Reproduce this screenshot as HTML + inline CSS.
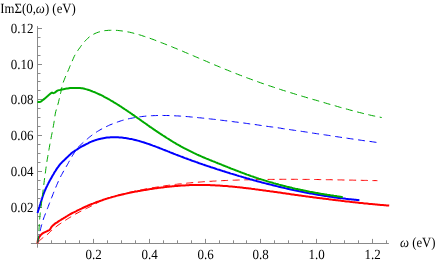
<!DOCTYPE html>
<html><head><meta charset="utf-8"><style>
html,body{margin:0;padding:0;background:#fff;}
svg{display:block}
text{font-family:"Liberation Serif",serif;font-size:13px;fill:#000;text-rendering:geometricPrecision}
</style></head><body>
<svg width="436" height="262" viewBox="0 0 436 262">
<rect width="436" height="262" fill="#fff"/>
<path d="M30.9,243.5 H388.9 M37.5,26.1 V247.7" stroke="#8a8a8a" stroke-width="1" fill="none"/>
<path d="M51.5,243.5 v-3.2 M65.5,243.5 v-3.2 M79.5,243.5 v-3.2 M93.5,243.5 v-4.6 M107.5,243.5 v-3.2 M121.5,243.5 v-3.2 M135.5,243.5 v-3.2 M149.5,243.5 v-4.6 M163.5,243.5 v-3.2 M177.5,243.5 v-3.2 M191.5,243.5 v-3.2 M205.5,243.5 v-4.6 M219.5,243.5 v-3.2 M233.5,243.5 v-3.2 M246.5,243.5 v-3.2 M260.5,243.5 v-4.6 M274.5,243.5 v-3.2 M288.5,243.5 v-3.2 M302.5,243.5 v-3.2 M316.5,243.5 v-4.6 M330.5,243.5 v-3.2 M344.5,243.5 v-3.2 M358.5,243.5 v-3.2 M372.5,243.5 v-4.6 M386.5,243.5 v-3.2 M37.5,234.5 h3.0 M37.5,225.5 h3.0 M37.5,216.5 h3.0 M37.5,207.5 h4.5 M37.5,198.5 h3.0 M37.5,189.5 h3.0 M37.5,180.5 h3.0 M37.5,171.5 h4.5 M37.5,162.5 h3.0 M37.5,153.5 h3.0 M37.5,144.5 h3.0 M37.5,135.5 h4.5 M37.5,126.5 h3.0 M37.5,117.5 h3.0 M37.5,108.5 h3.0 M37.5,99.5 h4.5 M37.5,90.5 h3.0 M37.5,81.5 h3.0 M37.5,73.5 h3.0 M37.5,64.5 h4.5 M37.5,55.5 h3.0 M37.5,46.5 h3.0 M37.5,37.5 h3.0 M37.5,28.5 h4.5" stroke="#8a8a8a" stroke-width="1" fill="none"/>
<path d="M37.4,243.4 L37.6,242.1 L37.8,240.8 L38.2,239.6 L38.6,238.5 L39.1,237.4 L39.8,236.3 L40.5,235.4 L41.4,234.4 L42.3,233.6 L43.4,232.9 L44.5,232.3 L45.6,231.8 L46.7,231.3 L47.8,230.8 L49.0,230.4 L50.0,229.6 L50.6,228.6 L51.2,227.4 L52.0,226.4 L52.8,225.6 L53.8,224.7 L54.7,223.9 L55.7,223.2 L56.8,222.6 L57.8,221.9 L58.8,221.2 L59.9,220.5 L60.9,219.9 L62.0,219.2 L63.0,218.6 L64.1,217.9 L65.1,217.3 L66.2,216.6 L67.2,216.0 L68.3,215.3 L69.4,214.7 L70.4,214.1 L71.5,213.5 L72.6,212.9 L73.7,212.4 L74.9,211.8 L76.0,211.3 L77.1,210.7 L78.2,210.2 L79.3,209.7 L80.4,209.1 L81.5,208.6 L82.7,208.0 L83.8,207.5 L84.9,207.0 L86.0,206.5 L87.2,206.0 L88.3,205.5 L89.4,205.0 L90.6,204.5 L91.7,204.0 L92.9,203.6 L94.0,203.1 L95.2,202.7 L96.3,202.2 L97.5,201.8 L98.7,201.4 L99.8,201.0 L101.0,200.6 L102.2,200.2 L103.3,199.8 L104.5,199.4 L105.7,199.0 L106.9,198.6 L108.1,198.3 L109.3,197.9 L110.4,197.6 L111.6,197.2 L112.8,196.9 L114.0,196.6 L115.2,196.3 L116.4,195.9 L117.6,195.6 L118.8,195.3 L120.0,195.0 L121.2,194.7 L122.4,194.4 L123.6,194.2 L124.8,193.9 L126.0,193.6 L127.3,193.3 L128.5,193.1 L129.7,192.8 L130.9,192.6 L132.1,192.3 L133.3,192.1 L134.5,191.8 L135.7,191.6 L137.0,191.4 L138.2,191.1 L139.4,190.9 L140.6,190.7 L141.8,190.5 L143.1,190.3 L144.3,190.1 L145.5,189.9 L146.7,189.7 L147.9,189.5 L149.2,189.3 L150.4,189.1 L151.6,188.9 L152.8,188.7 L154.1,188.5 L155.3,188.3 L156.5,188.2 L157.7,188.0 L159.0,187.8 L160.2,187.7 L161.4,187.5 L162.7,187.4 L163.9,187.2 L165.1,187.1 L166.3,186.9 L167.6,186.8 L168.8,186.7 L170.0,186.5 L171.3,186.4 L172.5,186.3 L173.7,186.2 L175.0,186.1 L176.2,186.0 L177.4,185.9 L178.7,185.8 L179.9,185.7 L181.1,185.6 L182.4,185.5 L183.6,185.4 L184.9,185.4 L186.1,185.3 L187.3,185.3 L188.6,185.2 L189.8,185.1 L191.0,185.1 L192.3,185.1 L193.5,185.0 L194.8,185.0 L196.0,185.0 L197.2,185.0 L198.5,185.0 L199.7,185.0 L200.9,185.0 L202.2,185.0 L203.4,185.0 L204.7,185.0 L205.9,185.0 L207.1,185.0 L208.4,185.1 L209.6,185.1 L210.8,185.2 L212.1,185.2 L213.3,185.3 L214.6,185.3 L215.8,185.4 L217.0,185.5 L218.3,185.5 L219.5,185.6 L220.7,185.7 L222.0,185.8 L223.2,185.9 L224.4,185.9 L225.7,186.0 L226.9,186.1 L228.2,186.2 L229.4,186.4 L230.6,186.5 L231.9,186.6 L233.1,186.7 L234.3,186.8 L235.5,186.9 L236.8,187.1 L238.0,187.2 L239.2,187.3 L240.5,187.5 L241.7,187.6 L242.9,187.7 L244.2,187.9 L245.4,188.0 L246.6,188.2 L247.9,188.3 L249.1,188.5 L250.3,188.6 L251.5,188.8 L252.8,188.9 L254.0,189.1 L255.2,189.3 L256.5,189.4 L257.7,189.6 L258.9,189.7 L260.1,189.9 L261.4,190.1 L262.6,190.2 L263.8,190.4 L265.0,190.6 L266.3,190.8 L267.5,190.9 L268.7,191.1 L270.0,191.3 L271.2,191.4 L272.4,191.6 L273.6,191.8 L274.9,192.0 L276.1,192.1 L277.3,192.3 L278.5,192.5 L279.8,192.6 L281.0,192.8 L282.2,193.0 L283.4,193.2 L284.7,193.3 L285.9,193.5 L287.1,193.7 L288.3,193.8 L289.6,194.0 L290.8,194.2 L292.0,194.4 L293.3,194.5 L294.5,194.7 L295.7,194.9 L296.9,195.0 L298.2,195.2 L299.4,195.4 L300.6,195.5 L301.8,195.7 L303.1,195.9 L304.3,196.1 L305.5,196.2 L306.7,196.4 L308.0,196.6 L309.2,196.7 L310.4,196.9 L311.7,197.0 L312.9,197.2 L314.1,197.4 L315.3,197.5 L316.6,197.7 L317.8,197.9 L319.0,198.0 L320.3,198.2 L321.5,198.3 L322.7,198.5 L323.9,198.7 L325.2,198.8 L326.4,199.0 L327.6,199.1 L328.9,199.3 L330.1,199.4 L331.3,199.6 L332.5,199.7 L333.8,199.9 L335.0,200.0 L336.2,200.2 L337.5,200.3 L338.7,200.5 L339.9,200.6 L341.1,200.8 L342.4,200.9 L343.6,201.1 L344.8,201.2 L346.1,201.4 L347.3,201.5 L348.5,201.6 L349.8,201.8 L351.0,201.9 L352.2,202.1 L353.4,202.2 L354.7,202.3 L355.9,202.5 L357.1,202.6 L358.4,202.7 L359.6,202.9 L360.8,203.0 L362.1,203.1 L363.3,203.2 L364.5,203.4 L365.8,203.5 L367.0,203.6 L368.2,203.7 L369.5,203.9 L370.7,204.0 L371.9,204.1 L373.2,204.2 L374.4,204.3 L375.6,204.4 L376.9,204.5 L378.1,204.7 L379.3,204.8 L380.6,204.9 L381.8,205.0 L383.0,205.1 L384.3,205.2 L385.5,205.3 L386.7,205.4 L388.0,205.5 L389.2,205.6" fill="none" stroke="#ff0000" stroke-width="2"/>
<path d="M37.5,243.4 L38.1,242.4 L38.8,241.4 L39.6,240.5 L40.5,239.7 L41.4,239.0 L42.3,238.2 L43.3,237.5 L44.3,236.8 L45.2,236.1 L46.2,235.4 L47.1,234.7 L48.0,233.9 L48.9,233.1 L49.7,232.3 L50.6,231.4 L51.5,230.6 L52.3,229.8 L53.2,229.0 L54.1,228.3 L55.1,227.5 L56.0,226.8 L56.9,226.1 L57.9,225.3 L58.9,224.6 L59.8,224.0 L60.8,223.3 L61.8,222.6 L62.8,221.9 L63.8,221.3 L64.8,220.6 L65.8,220.0 L66.8,219.4 L67.8,218.7 L68.8,218.1 L69.8,217.5 L70.8,216.9 L71.8,216.2 L72.9,215.6 L73.9,215.0 L74.9,214.4 L75.9,213.8 L77.0,213.3 L78.0,212.7 L79.1,212.1 L80.1,211.6 L81.2,211.1 L82.3,210.5 L83.3,210.0 L84.4,209.5 L85.5,209.0 L86.5,208.5 L87.6,207.9 L88.7,207.4 L89.7,206.9 L90.8,206.3 L91.8,205.8 L92.9,205.2 L93.9,204.6 L95.0,204.1 L96.0,203.5 L97.1,202.9 L98.1,202.4 L99.2,201.8 L100.2,201.3 L101.3,200.7 L102.4,200.2 L103.4,199.7 L104.5,199.3 L105.6,198.8 L106.8,198.4 L107.9,198.1 L109.1,197.8 L110.2,197.5 L111.4,197.1 L112.5,196.8 L113.6,196.5 L114.8,196.2 L115.9,195.9 L117.1,195.5 L118.2,195.2 L119.4,194.9 L120.5,194.6 L121.7,194.3 L122.8,194.0 L124.0,193.7 L125.1,193.5 L126.3,193.2 L127.4,192.9 L128.6,192.6 L129.8,192.3 L130.9,192.1 L132.1,191.8 L133.2,191.6 L134.4,191.3 L135.6,191.0 L136.7,190.8 L137.9,190.5 L139.1,190.3 L140.2,190.1 L141.4,189.8 L142.6,189.6 L143.7,189.4 L144.9,189.1 L146.1,188.9 L147.2,188.7 L148.4,188.5 L149.6,188.3 L150.7,188.1 L151.9,187.9 L153.1,187.7 L154.3,187.5 L155.4,187.3 L156.6,187.1 L157.8,186.9 L158.9,186.7 L160.1,186.5 L161.3,186.3 L162.5,186.2 L163.6,186.0 L164.8,185.8 L166.0,185.7 L167.2,185.5 L168.4,185.3 L169.5,185.2 L170.7,185.0 L171.9,184.9 L173.1,184.7 L174.3,184.6 L175.4,184.4 L176.6,184.3 L177.8,184.1 L179.0,184.0 L180.2,183.9 L181.3,183.8 L182.5,183.6 L183.7,183.5 L184.9,183.4 L186.1,183.3 L187.3,183.1 L188.4,183.0 L189.6,182.9 L190.8,182.8 L192.0,182.7 L193.2,182.6 L194.4,182.5 L195.5,182.4 L196.7,182.3 L197.9,182.2 L199.1,182.1 L200.3,182.0 L201.5,181.9 L202.7,181.8 L203.8,181.7 L205.0,181.7 L206.2,181.6 L207.4,181.5 L208.6,181.4 L209.8,181.3 L211.0,181.3 L212.2,181.2 L213.3,181.1 L214.5,181.1 L215.7,181.0 L216.9,180.9 L218.1,180.9 L219.3,180.8 L220.5,180.7 L221.7,180.7 L222.8,180.6 L224.0,180.6 L225.2,180.5 L226.4,180.5 L227.6,180.4 L228.8,180.4 L230.0,180.3 L231.2,180.3 L232.3,180.2 L233.5,180.2 L234.7,180.2 L235.9,180.1 L237.1,180.1 L238.3,180.0 L239.5,180.0 L240.7,180.0 L241.9,179.9 L243.0,179.9 L244.2,179.9 L245.4,179.8 L246.6,179.8 L247.8,179.8 L249.0,179.7 L250.2,179.7 L251.4,179.7 L252.6,179.7 L253.7,179.6 L254.9,179.6 L256.1,179.6 L257.3,179.6 L258.5,179.5 L259.7,179.5 L260.9,179.5 L262.1,179.5 L263.3,179.5 L264.4,179.5 L265.6,179.4 L266.8,179.4 L268.0,179.4 L269.2,179.4 L270.4,179.4 L271.6,179.4 L272.8,179.4 L274.0,179.4 L275.1,179.4 L276.3,179.4 L277.5,179.3 L278.7,179.3 L279.9,179.3 L281.1,179.3 L282.3,179.3 L283.5,179.3 L284.7,179.3 L285.8,179.3 L287.0,179.3 L288.2,179.3 L289.4,179.3 L290.6,179.3 L291.8,179.3 L293.0,179.3 L294.2,179.3 L295.4,179.3 L296.5,179.3 L297.7,179.4 L298.9,179.4 L300.1,179.4 L301.3,179.4 L302.5,179.4 L303.7,179.4 L304.9,179.4 L306.1,179.4 L307.3,179.4 L308.4,179.4 L309.6,179.4 L310.8,179.5 L312.0,179.5 L313.2,179.5 L314.4,179.5 L315.6,179.5 L316.8,179.5 L318.0,179.5 L319.1,179.6 L320.3,179.6 L321.5,179.6 L322.7,179.6 L323.9,179.6 L325.1,179.6 L326.3,179.7 L327.5,179.7 L328.7,179.7 L329.8,179.7 L331.0,179.7 L332.2,179.8 L333.4,179.8 L334.6,179.8 L335.8,179.8 L337.0,179.8 L338.2,179.9 L339.4,179.9 L340.5,179.9 L341.7,179.9 L342.9,180.0 L344.1,180.0 L345.3,180.0 L346.5,180.0 L347.7,180.0 L348.9,180.1 L350.1,180.1 L351.2,180.1 L352.4,180.1 L353.6,180.2 L354.8,180.2 L356.0,180.2 L357.2,180.2 L358.4,180.3 L359.6,180.3 L360.8,180.3 L361.9,180.3 L363.1,180.4 L364.3,180.4 L365.5,180.4 L366.7,180.4 L367.9,180.5 L369.1,180.5 L370.3,180.5 L371.5,180.5 L372.6,180.6 L373.8,180.6 L375.0,180.6 L376.2,180.6 L377.4,180.7" fill="none" stroke="#ff0000" stroke-width="1.0" stroke-dasharray="7 4.65" stroke-dashoffset="-1.3"/>
<path d="M37.5,213.0 L37.9,211.8 L38.2,210.6 L38.6,209.5 L39.0,208.3 L39.4,207.1 L39.7,205.9 L40.1,204.7 L40.5,203.5 L40.8,202.4 L41.2,201.2 L41.6,200.0 L42.0,198.8 L42.3,197.6 L42.7,196.5 L43.1,195.3 L43.5,194.1 L44.0,193.0 L44.4,191.8 L44.9,190.7 L45.4,189.5 L45.9,188.4 L46.4,187.3 L47.0,186.1 L47.5,185.0 L48.1,183.9 L48.6,182.8 L49.2,181.7 L49.8,180.6 L50.4,179.6 L51.0,178.5 L51.6,177.4 L52.2,176.3 L52.8,175.2 L53.5,174.2 L54.1,173.1 L54.7,172.0 L55.4,171.0 L56.1,169.9 L56.7,168.9 L57.4,167.9 L58.2,166.9 L58.9,165.9 L59.6,164.9 L60.4,163.9 L61.3,163.0 L62.1,162.1 L63.0,161.2 L63.9,160.4 L64.8,159.5 L65.7,158.7 L66.6,157.8 L67.5,157.0 L68.4,156.1 L69.3,155.2 L70.2,154.4 L71.1,153.5 L72.0,152.7 L73.0,152.0 L74.1,151.3 L75.1,150.6 L76.1,150.0 L77.2,149.3 L78.2,148.6 L79.3,148.0 L80.3,147.3 L81.4,146.7 L82.5,146.1 L83.6,145.5 L84.7,145.0 L85.8,144.4 L86.9,143.8 L88.0,143.3 L89.1,142.7 L90.2,142.2 L91.4,141.7 L92.5,141.2 L93.7,140.8 L94.8,140.4 L96.0,140.0 L97.2,139.6 L98.4,139.3 L99.6,139.0 L100.8,138.7 L102.0,138.4 L103.2,138.2 L104.5,138.0 L105.7,137.8 L106.9,137.6 L108.1,137.5 L109.4,137.4 L110.6,137.3 L111.9,137.2 L113.1,137.2 L114.3,137.2 L115.6,137.2 L116.8,137.2 L118.1,137.3 L119.3,137.4 L120.5,137.5 L121.8,137.6 L123.0,137.7 L124.2,137.9 L125.5,138.0 L126.7,138.2 L127.9,138.4 L129.1,138.7 L130.3,138.9 L131.5,139.1 L132.8,139.4 L134.0,139.7 L135.2,140.0 L136.4,140.3 L137.6,140.6 L138.8,140.9 L140.0,141.3 L141.1,141.6 L142.3,142.0 L143.5,142.3 L144.7,142.7 L145.9,143.1 L147.0,143.5 L148.2,143.9 L149.4,144.3 L150.6,144.7 L151.7,145.1 L152.9,145.6 L154.1,146.0 L155.2,146.4 L156.4,146.9 L157.5,147.3 L158.7,147.7 L159.8,148.2 L161.0,148.6 L162.2,149.1 L163.3,149.6 L164.5,150.0 L165.6,150.5 L166.8,150.9 L167.9,151.4 L169.1,151.8 L170.2,152.3 L171.4,152.8 L172.5,153.2 L173.7,153.7 L174.8,154.1 L176.0,154.6 L177.1,155.0 L178.3,155.5 L179.4,155.9 L180.6,156.4 L181.8,156.8 L182.9,157.2 L184.1,157.7 L185.2,158.1 L186.4,158.5 L187.6,159.0 L188.7,159.4 L189.9,159.8 L191.1,160.3 L192.2,160.7 L193.4,161.1 L194.6,161.5 L195.7,161.9 L196.9,162.3 L198.1,162.8 L199.2,163.2 L200.4,163.6 L201.6,164.0 L202.7,164.4 L203.9,164.8 L205.1,165.2 L206.3,165.6 L207.4,166.0 L208.6,166.4 L209.8,166.8 L211.0,167.2 L212.1,167.5 L213.3,167.9 L214.5,168.3 L215.7,168.7 L216.8,169.1 L218.0,169.5 L219.2,169.8 L220.4,170.2 L221.6,170.6 L222.7,171.0 L223.9,171.3 L225.1,171.7 L226.3,172.1 L227.5,172.5 L228.7,172.8 L229.8,173.2 L231.0,173.6 L232.2,173.9 L233.4,174.3 L234.6,174.6 L235.8,175.0 L237.0,175.4 L238.1,175.7 L239.3,176.1 L240.5,176.4 L241.7,176.8 L242.9,177.1 L244.1,177.5 L245.3,177.8 L246.5,178.2 L247.7,178.5 L248.8,178.8 L250.0,179.2 L251.2,179.5 L252.4,179.8 L253.6,180.2 L254.8,180.5 L256.0,180.8 L257.2,181.2 L258.4,181.5 L259.6,181.8 L260.8,182.1 L262.0,182.5 L263.2,182.8 L264.4,183.1 L265.6,183.4 L266.8,183.7 L268.0,184.0 L269.2,184.3 L270.4,184.6 L271.6,184.9 L272.8,185.2 L274.0,185.5 L275.2,185.8 L276.4,186.1 L277.6,186.4 L278.8,186.7 L280.0,187.0 L281.2,187.3 L282.4,187.6 L283.6,187.8 L284.8,188.1 L286.0,188.4 L287.3,188.7 L288.5,188.9 L289.7,189.2 L290.9,189.5 L292.1,189.7 L293.3,190.0 L294.5,190.3 L295.7,190.5 L296.9,190.8 L298.2,191.0 L299.4,191.3 L300.6,191.5 L301.8,191.8 L303.0,192.0 L304.2,192.2 L305.4,192.5 L306.7,192.7 L307.9,192.9 L309.1,193.2 L310.3,193.4 L311.5,193.6 L312.8,193.8 L314.0,194.1 L315.2,194.3 L316.4,194.5 L317.6,194.7 L318.9,194.9 L320.1,195.1 L321.3,195.3 L322.5,195.5 L323.8,195.7 L325.0,195.9 L326.2,196.1 L327.4,196.3 L328.6,196.5 L329.9,196.7 L331.1,196.8 L332.3,197.0 L333.6,197.2 L334.8,197.4 L336.0,197.5 L337.2,197.7 L338.5,197.9 L339.7,198.0 L340.9,198.2 L342.2,198.3 L343.4,198.5 L344.6,198.6 L345.8,198.8 L347.1,198.9 L348.3,199.1 L349.5,199.2 L350.8,199.3 L352.0,199.5 L353.2,199.6 L354.5,199.7 L355.7,199.8 L356.9,200.0 L358.2,200.1 L359.4,200.2" fill="none" stroke="#0000ff" stroke-width="2"/>
<path d="M37.5,243.4 L37.7,242.0 L38.0,240.7 L38.2,239.3 L38.5,237.9 L38.8,236.6 L39.1,235.2 L39.4,233.9 L39.7,232.5 L40.0,231.2 L40.3,229.9 L40.7,228.5 L41.0,227.2 L41.4,225.8 L41.8,224.5 L42.1,223.2 L42.5,221.9 L43.0,220.5 L43.4,219.2 L43.8,217.9 L44.3,216.6 L44.8,215.3 L45.3,214.0 L45.8,212.7 L46.3,211.4 L46.8,210.1 L47.3,208.8 L47.8,207.6 L48.3,206.3 L48.8,205.0 L49.3,203.7 L49.8,202.4 L50.3,201.1 L50.8,199.8 L51.3,198.5 L51.8,197.2 L52.3,196.0 L52.8,194.7 L53.3,193.4 L53.8,192.1 L54.4,190.8 L54.9,189.5 L55.4,188.3 L55.9,187.0 L56.5,185.7 L57.0,184.4 L57.6,183.2 L58.1,181.9 L58.7,180.6 L59.3,179.4 L59.9,178.1 L60.5,176.9 L61.1,175.7 L61.8,174.4 L62.5,173.2 L63.1,172.0 L63.8,170.8 L64.5,169.6 L65.2,168.4 L65.9,167.2 L66.6,166.0 L67.3,164.8 L68.0,163.6 L68.6,162.4 L69.3,161.2 L70.0,160.0 L70.7,158.8 L71.4,157.6 L72.0,156.4 L72.7,155.2 L73.5,154.0 L74.2,152.8 L74.9,151.7 L75.7,150.5 L76.5,149.4 L77.3,148.3 L78.2,147.2 L79.2,146.2 L80.2,145.2 L81.2,144.3 L82.2,143.4 L83.3,142.4 L84.3,141.5 L85.3,140.6 L86.4,139.7 L87.5,138.8 L88.5,137.9 L89.6,137.0 L90.7,136.2 L91.8,135.3 L92.9,134.5 L94.0,133.7 L95.1,132.9 L96.3,132.2 L97.5,131.4 L98.7,130.7 L99.9,130.0 L101.1,129.3 L102.3,128.7 L103.5,128.0 L104.7,127.4 L106.0,126.8 L107.2,126.2 L108.5,125.6 L109.7,125.0 L111.0,124.5 L112.3,124.0 L113.6,123.4 L114.9,122.9 L116.2,122.5 L117.5,122.0 L118.8,121.6 L120.1,121.1 L121.4,120.7 L122.7,120.3 L124.1,120.0 L125.4,119.6 L126.8,119.3 L128.1,118.9 L129.5,118.6 L130.8,118.3 L132.2,118.1 L133.5,117.8 L134.9,117.6 L136.2,117.3 L137.6,117.1 L139.0,116.9 L140.4,116.7 L141.7,116.6 L143.1,116.4 L144.5,116.3 L145.9,116.1 L147.2,116.0 L148.6,115.9 L150.0,115.8 L151.4,115.7 L152.8,115.7 L154.1,115.6 L155.5,115.6 L156.9,115.5 L158.3,115.5 L159.7,115.5 L161.1,115.5 L162.4,115.4 L163.8,115.5 L165.2,115.5 L166.6,115.5 L168.0,115.5 L169.4,115.6 L170.7,115.6 L172.1,115.7 L173.5,115.7 L174.9,115.8 L176.3,115.9 L177.7,115.9 L179.0,116.0 L180.4,116.1 L181.8,116.2 L183.2,116.3 L184.6,116.4 L185.9,116.5 L187.3,116.6 L188.7,116.7 L190.1,116.9 L191.5,117.0 L192.8,117.1 L194.2,117.3 L195.6,117.4 L197.0,117.5 L198.3,117.7 L199.7,117.8 L201.1,117.9 L202.5,118.1 L203.8,118.2 L205.2,118.4 L206.6,118.5 L208.0,118.7 L209.3,118.8 L210.7,119.0 L212.1,119.1 L213.5,119.3 L214.8,119.4 L216.2,119.6 L217.6,119.8 L219.0,119.9 L220.3,120.1 L221.7,120.3 L223.1,120.4 L224.5,120.6 L225.8,120.8 L227.2,120.9 L228.6,121.1 L230.0,121.3 L231.3,121.4 L232.7,121.6 L234.1,121.8 L235.4,122.0 L236.8,122.1 L238.2,122.3 L239.6,122.5 L240.9,122.7 L242.3,122.9 L243.7,123.0 L245.1,123.2 L246.4,123.4 L247.8,123.6 L249.2,123.8 L250.5,124.0 L251.9,124.1 L253.3,124.3 L254.7,124.5 L256.0,124.7 L257.4,124.9 L258.8,125.1 L260.1,125.3 L261.5,125.5 L262.9,125.7 L264.2,125.9 L265.6,126.1 L267.0,126.3 L268.4,126.5 L269.7,126.7 L271.1,126.9 L272.5,127.0 L273.8,127.2 L275.2,127.4 L276.6,127.6 L277.9,127.8 L279.3,128.0 L280.7,128.2 L282.0,128.5 L283.4,128.7 L284.8,128.9 L286.2,129.1 L287.5,129.3 L288.9,129.5 L290.3,129.7 L291.6,129.9 L293.0,130.1 L294.4,130.3 L295.7,130.5 L297.1,130.7 L298.5,130.9 L299.8,131.1 L301.2,131.3 L302.6,131.5 L303.9,131.7 L305.3,131.9 L306.7,132.1 L308.0,132.3 L309.4,132.6 L310.8,132.8 L312.1,133.0 L313.5,133.2 L314.9,133.4 L316.3,133.6 L317.6,133.8 L319.0,134.0 L320.4,134.2 L321.7,134.4 L323.1,134.6 L324.5,134.8 L325.8,135.0 L327.2,135.2 L328.6,135.4 L329.9,135.6 L331.3,135.9 L332.7,136.1 L334.0,136.3 L335.4,136.5 L336.8,136.7 L338.1,136.9 L339.5,137.1 L340.9,137.3 L342.3,137.5 L343.6,137.7 L345.0,137.9 L346.4,138.1 L347.7,138.3 L349.1,138.5 L350.5,138.7 L351.8,138.9 L353.2,139.1 L354.6,139.3 L355.9,139.5 L357.3,139.7 L358.7,139.9 L360.1,140.1 L361.4,140.3 L362.8,140.5 L364.2,140.7 L365.5,140.9 L366.9,141.0 L368.3,141.2 L369.6,141.4 L371.0,141.6 L372.4,141.8 L373.8,142.0 L375.1,142.2 L376.5,142.4" fill="none" stroke="#0000ff" stroke-width="1.0" stroke-dasharray="7 4.6" stroke-dashoffset="-0.9"/>
<path d="M37.4,101.7 L38.6,102.0 L39.8,102.1 L40.8,101.7 L41.7,101.0 L42.5,100.3 L43.4,99.6 L44.3,98.9 L45.1,98.2 L46.0,97.5 L46.8,96.7 L47.7,96.0 L48.5,95.3 L49.4,94.6 L50.2,93.8 L51.1,93.1 L52.0,92.7 L53.2,93.2 L54.2,92.9 L55.2,92.4 L56.1,91.6 L57.0,90.9 L58.0,90.4 L59.0,90.1 L60.1,89.9 L61.2,89.6 L62.3,89.4 L63.4,89.2 L64.5,89.0 L65.6,88.8 L66.7,88.6 L67.8,88.5 L68.9,88.3 L70.0,88.1 L71.2,88.0 L72.3,87.9 L73.4,87.9 L74.5,87.9 L75.6,87.9 L76.8,87.9 L77.9,87.9 L79.0,88.0 L80.1,88.1 L81.2,88.2 L82.3,88.3 L83.4,88.5 L84.5,88.8 L85.6,89.1 L86.7,89.4 L87.8,89.7 L88.8,90.0 L89.9,90.4 L90.9,90.8 L92.0,91.2 L93.0,91.6 L94.1,92.0 L95.1,92.4 L96.1,92.9 L97.2,93.3 L98.2,93.8 L99.2,94.3 L100.2,94.7 L101.2,95.2 L102.2,95.7 L103.2,96.2 L104.2,96.8 L105.2,97.3 L106.2,97.8 L107.2,98.3 L108.1,98.9 L109.1,99.4 L110.1,100.0 L111.0,100.6 L112.0,101.1 L113.0,101.7 L113.9,102.3 L114.9,102.8 L115.8,103.4 L116.8,104.0 L117.7,104.6 L118.7,105.2 L119.6,105.8 L120.6,106.4 L121.5,107.0 L122.4,107.7 L123.4,108.3 L124.3,108.9 L125.2,109.5 L126.2,110.1 L127.1,110.8 L128.0,111.4 L128.9,112.0 L129.9,112.6 L130.8,113.3 L131.7,113.9 L132.6,114.6 L133.6,115.2 L134.5,115.8 L135.4,116.5 L136.3,117.1 L137.2,117.8 L138.1,118.4 L139.1,119.0 L140.0,119.7 L140.9,120.3 L141.8,121.0 L142.7,121.6 L143.6,122.3 L144.5,122.9 L145.5,123.5 L146.4,124.2 L147.3,124.8 L148.2,125.5 L149.1,126.1 L150.0,126.8 L151.0,127.4 L151.9,128.0 L152.8,128.7 L153.7,129.3 L154.6,129.9 L155.6,130.6 L156.5,131.2 L157.4,131.8 L158.4,132.4 L159.3,133.1 L160.2,133.7 L161.2,134.3 L162.1,134.9 L163.0,135.5 L164.0,136.1 L164.9,136.7 L165.8,137.3 L166.8,138.0 L167.7,138.5 L168.7,139.1 L169.6,139.7 L170.6,140.3 L171.5,140.9 L172.5,141.5 L173.4,142.1 L174.4,142.7 L175.4,143.2 L176.3,143.8 L177.3,144.4 L178.3,144.9 L179.2,145.5 L180.2,146.0 L181.2,146.6 L182.2,147.1 L183.1,147.6 L184.1,148.2 L185.1,148.7 L186.1,149.2 L187.1,149.7 L188.1,150.2 L189.1,150.7 L190.1,151.2 L191.1,151.7 L192.1,152.2 L193.1,152.7 L194.1,153.2 L195.2,153.6 L196.2,154.1 L197.2,154.6 L198.2,155.0 L199.2,155.5 L200.3,155.9 L201.3,156.4 L202.3,156.8 L203.3,157.3 L204.4,157.7 L205.4,158.1 L206.4,158.6 L207.5,159.0 L208.5,159.4 L209.5,159.9 L210.6,160.3 L211.6,160.7 L212.6,161.1 L213.7,161.5 L214.7,161.9 L215.8,162.4 L216.8,162.8 L217.8,163.2 L218.9,163.6 L219.9,164.0 L221.0,164.4 L222.0,164.9 L223.0,165.3 L224.1,165.7 L225.1,166.1 L226.1,166.5 L227.2,166.9 L228.2,167.4 L229.3,167.8 L230.3,168.2 L231.3,168.6 L232.4,169.0 L233.4,169.4 L234.5,169.8 L235.5,170.2 L236.6,170.6 L237.6,171.0 L238.6,171.4 L239.7,171.8 L240.7,172.2 L241.8,172.6 L242.8,173.0 L243.9,173.4 L244.9,173.8 L246.0,174.2 L247.0,174.6 L248.1,174.9 L249.1,175.3 L250.2,175.7 L251.2,176.1 L252.3,176.4 L253.4,176.8 L254.4,177.2 L255.5,177.5 L256.5,177.9 L257.6,178.2 L258.7,178.6 L259.7,178.9 L260.8,179.3 L261.9,179.6 L262.9,179.9 L264.0,180.3 L265.1,180.6 L266.1,180.9 L267.2,181.3 L268.3,181.6 L269.3,181.9 L270.4,182.2 L271.5,182.5 L272.6,182.8 L273.6,183.1 L274.7,183.4 L275.8,183.8 L276.9,184.0 L278.0,184.3 L279.0,184.6 L280.1,184.9 L281.2,185.2 L282.3,185.5 L283.4,185.8 L284.5,186.0 L285.5,186.3 L286.6,186.6 L287.7,186.9 L288.8,187.1 L289.9,187.4 L291.0,187.6 L292.1,187.9 L293.2,188.2 L294.2,188.4 L295.3,188.7 L296.4,188.9 L297.5,189.1 L298.6,189.4 L299.7,189.6 L300.8,189.9 L301.9,190.1 L303.0,190.3 L304.1,190.6 L305.2,190.8 L306.3,191.0 L307.4,191.2 L308.5,191.4 L309.6,191.7 L310.7,191.9 L311.8,192.1 L312.9,192.3 L314.0,192.5 L315.1,192.7 L316.2,192.9 L317.3,193.1 L318.4,193.3 L319.5,193.5 L320.6,193.7 L321.7,193.9 L322.8,194.0 L323.9,194.2 L325.0,194.4 L326.1,194.6 L327.2,194.8 L328.3,194.9 L329.4,195.1 L330.5,195.3 L331.6,195.4 L332.7,195.6 L333.8,195.8 L334.9,195.9 L336.0,196.1 L337.2,196.3 L338.3,196.4 L339.4,196.6 L340.5,196.7 L341.6,196.9 L342.7,197.0" fill="none" stroke="#00aa00" stroke-width="2"/>
<path d="M37.5,243.4 L37.8,241.7 L38.1,239.9 L38.3,238.2 L38.5,236.5 L38.7,234.7 L38.8,233.0 L38.9,231.2 L39.0,229.5 L39.1,227.7 L39.2,226.0 L39.3,224.2 L39.4,222.4 L39.5,220.7 L39.7,218.9 L39.8,217.2 L40.0,215.5 L40.2,213.7 L40.4,212.0 L40.6,210.2 L40.8,208.5 L41.0,206.7 L41.3,205.0 L41.5,203.3 L41.7,201.5 L41.9,199.8 L42.1,198.0 L42.3,196.3 L42.5,194.6 L42.8,192.8 L43.0,191.1 L43.2,189.3 L43.4,187.6 L43.6,185.9 L43.9,184.1 L44.1,182.4 L44.3,180.6 L44.5,178.9 L44.8,177.2 L45.0,175.4 L45.2,173.7 L45.5,171.9 L45.7,170.2 L45.9,168.5 L46.2,166.7 L46.4,165.0 L46.7,163.3 L46.9,161.5 L47.2,159.8 L47.5,158.1 L47.8,156.3 L48.1,154.6 L48.4,152.9 L48.7,151.1 L49.0,149.4 L49.3,147.7 L49.6,146.0 L49.9,144.2 L50.3,142.5 L50.6,140.8 L50.9,139.1 L51.2,137.3 L51.5,135.6 L51.9,133.9 L52.2,132.2 L52.5,130.4 L52.8,128.7 L53.2,127.0 L53.5,125.3 L53.8,123.5 L54.1,121.8 L54.3,120.1 L54.6,118.3 L54.8,116.6 L55.1,114.9 L55.4,113.1 L55.8,111.4 L56.3,109.7 L56.7,108.0 L57.3,106.4 L57.8,104.7 L58.3,103.0 L58.7,101.3 L59.1,99.6 L59.5,97.9 L59.9,96.2 L60.3,94.5 L60.7,92.8 L61.1,91.0 L61.5,89.3 L61.8,87.6 L62.2,85.9 L62.7,84.2 L63.2,82.5 L63.8,80.9 L64.5,79.2 L65.1,77.6 L65.8,76.0 L66.5,74.4 L67.2,72.8 L67.9,71.2 L68.6,69.6 L69.3,67.9 L69.9,66.3 L70.6,64.7 L71.3,63.1 L72.0,61.5 L72.7,59.9 L73.4,58.3 L74.1,56.7 L74.9,55.1 L75.8,53.6 L76.8,52.1 L77.7,50.7 L78.7,49.2 L79.8,47.8 L80.8,46.3 L81.8,44.9 L82.9,43.6 L84.0,42.2 L85.2,40.9 L86.4,39.7 L87.7,38.4 L89.0,37.2 L90.4,36.1 L91.9,35.2 L93.4,34.3 L95.0,33.5 L96.6,32.8 L98.3,32.2 L100.0,31.7 L101.7,31.2 L103.4,30.9 L105.1,30.6 L106.9,30.5 L108.6,30.3 L110.4,30.3 L112.1,30.2 L113.9,30.3 L115.6,30.3 L117.4,30.4 L119.1,30.6 L120.9,30.8 L122.6,31.0 L124.3,31.2 L126.1,31.5 L127.8,31.9 L129.5,32.2 L131.2,32.6 L132.9,33.0 L134.6,33.5 L136.3,33.9 L138.0,34.4 L139.7,34.9 L141.4,35.4 L143.0,36.0 L144.7,36.5 L146.4,37.1 L148.0,37.6 L149.7,38.2 L151.3,38.8 L153.0,39.4 L154.6,40.0 L156.3,40.7 L157.9,41.3 L159.5,41.9 L161.2,42.6 L162.8,43.2 L164.4,43.8 L166.1,44.5 L167.7,45.1 L169.3,45.8 L171.0,46.4 L172.6,47.1 L174.2,47.8 L175.8,48.4 L177.4,49.1 L179.1,49.8 L180.7,50.5 L182.3,51.1 L183.9,51.8 L185.5,52.5 L187.2,53.2 L188.8,53.9 L190.4,54.6 L192.0,55.2 L193.6,55.9 L195.2,56.6 L196.8,57.3 L198.5,58.0 L200.1,58.7 L201.7,59.4 L203.3,60.1 L204.9,60.7 L206.5,61.4 L208.1,62.1 L209.7,62.8 L211.4,63.5 L213.0,64.2 L214.6,64.9 L216.2,65.5 L217.8,66.2 L219.5,66.9 L221.1,67.6 L222.7,68.2 L224.3,68.9 L225.9,69.6 L227.6,70.2 L229.2,70.9 L230.8,71.5 L232.4,72.2 L234.1,72.8 L235.7,73.5 L237.3,74.1 L239.0,74.8 L240.6,75.4 L242.3,76.0 L243.9,76.6 L245.5,77.3 L247.2,77.9 L248.8,78.5 L250.5,79.1 L252.1,79.7 L253.8,80.3 L255.4,80.9 L257.1,81.5 L258.7,82.1 L260.4,82.7 L262.0,83.3 L263.7,83.8 L265.3,84.4 L267.0,85.0 L268.6,85.6 L270.3,86.1 L272.0,86.7 L273.6,87.2 L275.3,87.8 L277.0,88.3 L278.6,88.9 L280.3,89.4 L282.0,90.0 L283.6,90.5 L285.3,91.0 L287.0,91.6 L288.7,92.1 L290.3,92.6 L292.0,93.1 L293.7,93.6 L295.4,94.2 L297.0,94.7 L298.7,95.2 L300.4,95.7 L302.1,96.2 L303.8,96.7 L305.5,97.2 L307.1,97.7 L308.8,98.2 L310.5,98.7 L312.2,99.2 L313.9,99.7 L315.6,100.1 L317.2,100.6 L318.9,101.1 L320.6,101.6 L322.3,102.1 L324.0,102.6 L325.7,103.1 L327.3,103.6 L329.0,104.1 L330.7,104.5 L332.4,105.0 L334.1,105.5 L335.8,106.0 L337.5,106.5 L339.1,107.0 L340.8,107.5 L342.5,107.9 L344.2,108.4 L345.9,108.9 L347.6,109.3 L349.3,109.8 L351.0,110.3 L352.7,110.7 L354.4,111.2 L356.1,111.6 L357.8,112.1 L359.5,112.5 L361.2,112.9 L362.9,113.4 L364.6,113.8 L366.3,114.2 L368.0,114.6 L369.7,115.0 L371.4,115.4 L373.1,115.8 L374.8,116.1 L376.5,116.5 L378.3,116.8 L380.0,117.2 L381.7,117.5" fill="none" stroke="#00aa00" stroke-width="1.0" stroke-dasharray="7 4.6" stroke-dashoffset="-0.8"/>
<g style="opacity:0.999">
<text transform="translate(33.5,212.2) scale(1.0,1.08)" text-anchor="end">0.02</text>
<text transform="translate(33.5,176.2) scale(1.0,1.08)" text-anchor="end">0.04</text>
<text transform="translate(33.5,140.2) scale(1.0,1.08)" text-anchor="end">0.06</text>
<text transform="translate(33.5,104.2) scale(1.0,1.08)" text-anchor="end">0.08</text>
<text transform="translate(33.5,69.2) scale(1.0,1.08)" text-anchor="end">0.10</text>
<text transform="translate(33.5,33.2) scale(1.0,1.08)" text-anchor="end">0.12</text>
<text transform="translate(93.5,259.2) scale(1.0,1.08)" text-anchor="middle">0.2</text>
<text transform="translate(149.5,259.2) scale(1.0,1.08)" text-anchor="middle">0.4</text>
<text transform="translate(205.5,259.2) scale(1.0,1.08)" text-anchor="middle">0.6</text>
<text transform="translate(260.5,259.2) scale(1.0,1.08)" text-anchor="middle">0.8</text>
<text transform="translate(316.5,259.2) scale(1.0,1.08)" text-anchor="middle">1.0</text>
<text transform="translate(372.5,259.2) scale(1.0,1.08)" text-anchor="middle">1.2</text>
<text transform="translate(0.3,13.0) scale(0.985,1.08)" text-anchor="start">Im&#931;(0,<tspan font-style="italic">&#969;</tspan>) (eV)</text>
<text transform="translate(400.0,246.6) scale(0.98,1.08)" text-anchor="start"><tspan font-style="italic">&#969;</tspan> (eV)</text>
</g>
</svg>
</body></html>
